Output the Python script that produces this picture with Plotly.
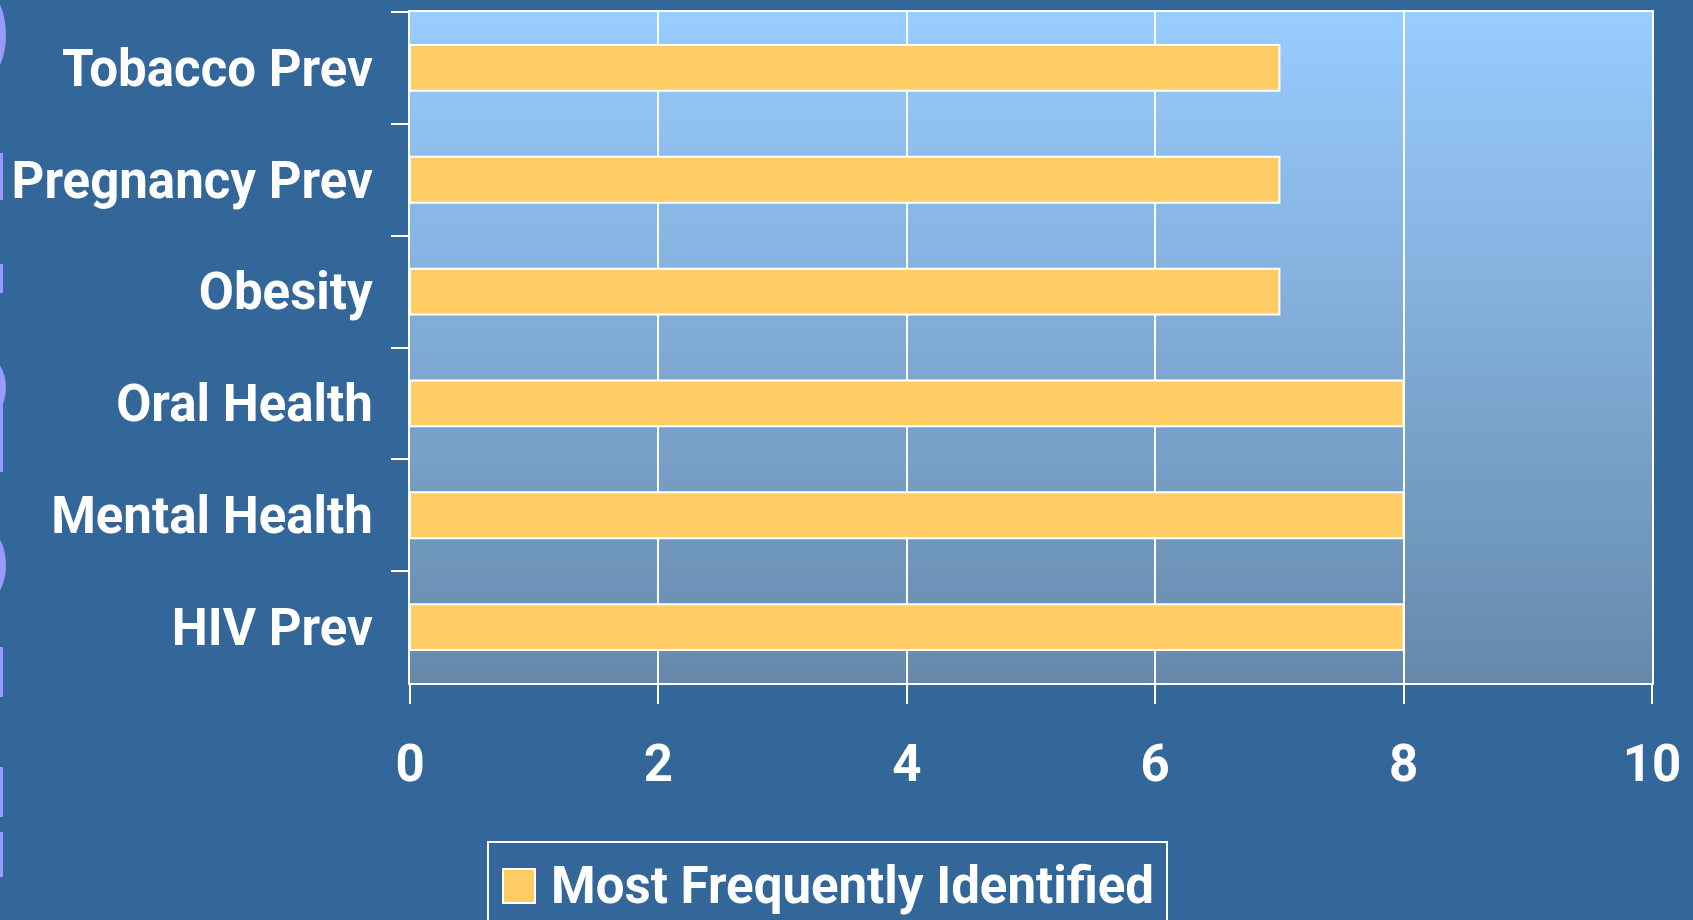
import plotly.graph_objects as go

# ---- data ----
categories = ["Tobacco Prev", "Pregnancy Prev", "Obesity", "Oral Health", "Mental Health", "HIV Prev"]
values = [7, 7, 7, 8, 8, 8]
series_name = "Most Frequently Identified"
x_ticks = [0, 2, 4, 6, 8, 10]

# ---- geometry (pixels) ----
W, H = 1693, 920
L, R, T, B = 410, 1652, 12, 683
pw, ph = R - L, B - T

def px(x):
    return (x - L) / pw

def py(y):
    return (B - y) / ph

FONT = "Roboto, Liberation Sans, Arial, sans-serif"
FS = 51
BG = "#336699"
BAR = "#FFCC66"

fig = go.Figure()
fig.add_trace(go.Bar(
    y=categories, x=values, orientation="h", name=series_name,
    marker=dict(color=BAR, line=dict(color="white", width=2)),
    width=0.41, showlegend=False,
))

shapes = []
# vertical gradient background of the plot area
top_c = (153, 204, 255)
bot_c = (102, 137, 171)
N = 90
for i in range(N):
    f0 = i / N
    f1 = (i + 1) / N
    t = (f0 + f1) / 2
    c = tuple(round(top_c[k] + (bot_c[k] - top_c[k]) * t) for k in range(3))
    shapes.append(dict(type="rect", xref="paper", yref="paper",
                       x0=0, x1=1, y0=1 - f1 - 0.002, y1=1 - f0,
                       fillcolor="rgb(%d,%d,%d)" % c, line=dict(width=0), layer="below"))

# decorative slide marks on the left edge
PURPLE = "#9999FF"
for (y0, y1) in [(153, 200), (264, 293), (380, 472), (647, 697), (767, 817), (832, 877)]:
    shapes.append(dict(type="rect", xref="paper", yref="paper",
                       x0=px(-2), x1=px(3), y0=py(y1), y1=py(y0),
                       fillcolor=PURPLE, line=dict(width=0)))
for (y0, y1) in [(-10, 80), (355, 420), (527, 603)]:
    shapes.append(dict(type="circle", xref="paper", yref="paper",
                       x0=px(-40), x1=px(6), y0=py(y1), y1=py(y0),
                       fillcolor=PURPLE, line=dict(width=0)))

# custom legend box
shapes.append(dict(type="rect", xref="paper", yref="paper",
                   x0=px(488), x1=px(1167), y0=py(935), y1=py(842),
                   fillcolor="rgba(0,0,0,0)", line=dict(color="white", width=2)))
shapes.append(dict(type="rect", xref="paper", yref="paper",
                   x0=px(503), x1=px(535), y0=py(903), y1=py(869),
                   fillcolor=BAR, line=dict(color="white", width=2)))

annotations = [dict(text=series_name, xref="paper", yref="paper",
                    x=px(549), y=py(885), xanchor="left", yanchor="middle",
                    showarrow=False,
                    font=dict(family=FONT, size=FS, color="white", weight="bold"))]

fig.update_layout(
    width=W, height=H,
    margin=dict(l=L, r=W - R, t=T, b=H - B, pad=0, autoexpand=False),
    paper_bgcolor=BG, plot_bgcolor="rgba(0,0,0,0)",
    font=dict(family=FONT, size=FS, color="white", weight="bold"),
    shapes=shapes, annotations=annotations,
    showlegend=False,
)
fig.update_xaxes(
    range=[0, 10], tickvals=x_ticks, ticktext=[str(v) for v in x_ticks],
    showgrid=True, gridcolor="white", gridwidth=2,
    showline=True, linecolor="white", linewidth=2, mirror=True,
    ticks="outside", ticklen=19, tickwidth=2, tickcolor="white",
    ticklabelstandoff=16, zeroline=False, automargin=False,
    tickfont=dict(family=FONT, size=FS, color="white", weight="bold"),
)
fig.update_yaxes(
    categoryorder="array", categoryarray=categories, autorange="reversed",
    showgrid=False, showline=True, linecolor="white", linewidth=2, mirror=True,
    ticks="outside", tickson="boundaries", ticklen=17, tickwidth=2, tickcolor="white",
    ticklabelstandoff=25, automargin=False,
    tickfont=dict(family=FONT, size=FS, color="white", weight="bold"),
)

fig.write_html(
    "out.html",
    config={"displayModeBar": False},
    post_script="document.body.style.margin='0';document.body.style.background='#336699';",
)
